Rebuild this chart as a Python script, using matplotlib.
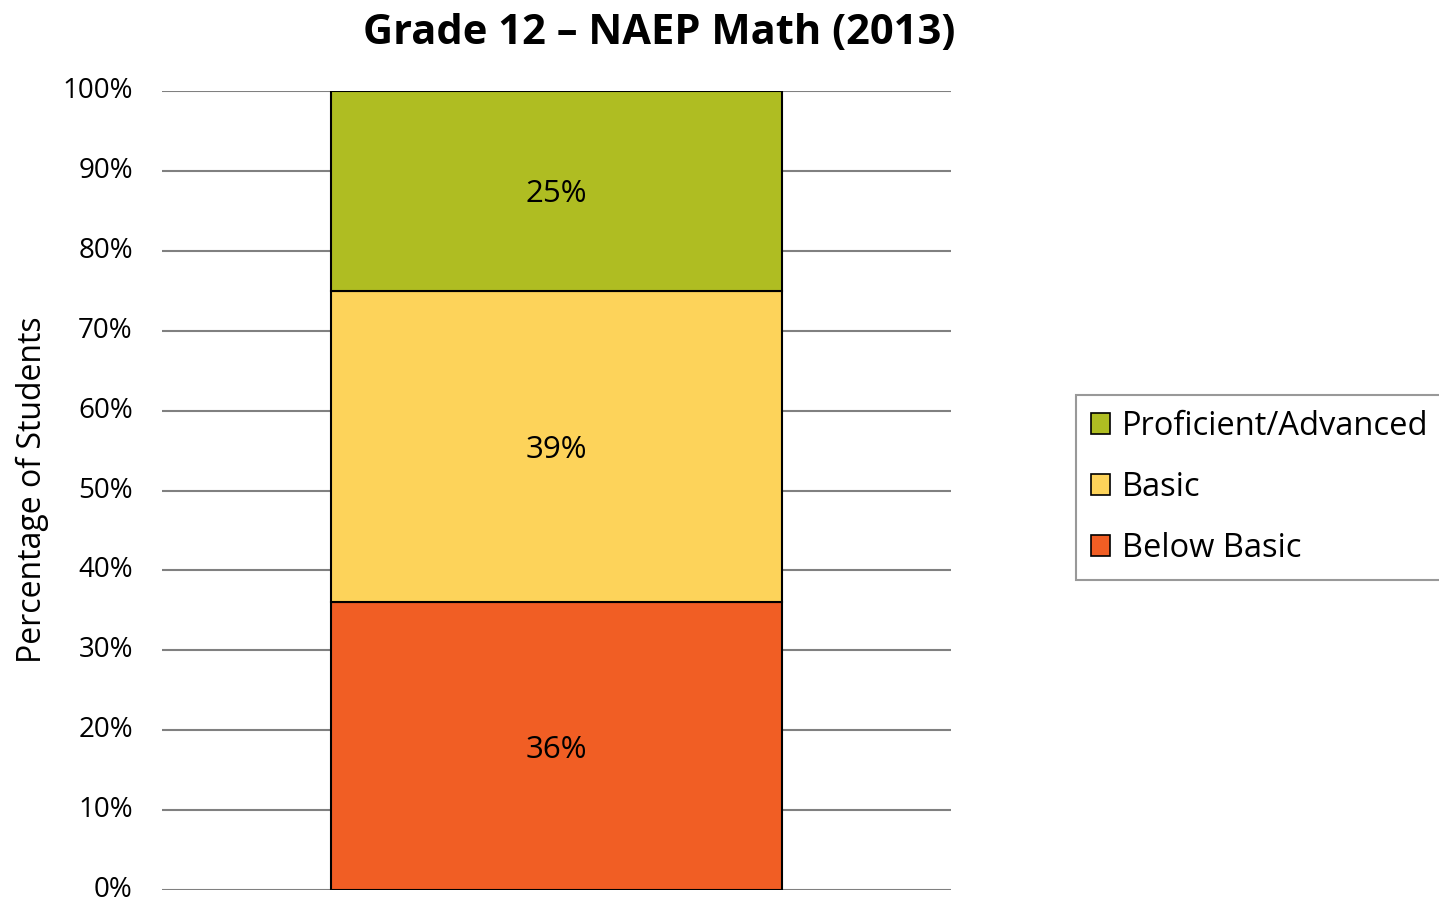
import matplotlib
matplotlib.use("Agg")
import matplotlib.pyplot as plt
import matplotlib.transforms as mtransforms
from matplotlib.patches import Patch

# data
categories = ["Below Basic", "Basic", "Proficient/Advanced"]
values = [36, 39, 25]
colors = ["#F15E24", "#FDD35A", "#AFBD22"]
yticks = [0, 10, 20, 30, 40, 50, 60, 70, 80, 90, 100]
title = "Grade 12 \u2013 NAEP Math (2013)"
ylabel = "Percentage of Students"

plt.rcParams["font.family"] = ["Open Sans", "DejaVu Sans"]

fig = plt.figure(figsize=(14.39, 9.02), dpi=100)
W, H = 1439, 902
ax = fig.add_axes([162 / W, 1 - 890 / H, (951 - 162) / W, (890 - 91) / H])

bottom = 0
for cat, v, c in zip(categories, values, colors):
    ax.bar(0, v, bottom=bottom, width=0.5716, color=c, edgecolor="black",
           linewidth=1.5, zorder=3, label=cat)
    ax.text(0, bottom + v / 2, f"{v}%", ha="center", va="center_baseline",
            fontsize=22.5, zorder=4)
    bottom += v

ax.set_xlim(-0.5, 0.5)
ax.set_ylim(0, 100)
ax.set_yticks(yticks)
ax.set_yticklabels([f"{t}%" for t in yticks], fontsize=20)
ax.yaxis.grid(True, color="#808080", linewidth=1.5, zorder=0)
ax.set_xticks([])
for s in ax.spines.values():
    s.set_visible(False)
ax.tick_params(axis="y", length=0, pad=21)
# nudge tick labels up a little so "0%" stays inside the figure
shift = mtransforms.ScaledTranslation(0, 2.5 / 72, fig.dpi_scale_trans)
for lab in ax.get_yticklabels():
    lab.set_transform(lab.get_transform() + shift)

fig.text(32 / W, 1 - 490 / H, ylabel, rotation=90, ha="center", va="center",
         fontsize=23)
fig.text(659 / W, 1 - 34 / H, title, ha="center", va="center", fontsize=30,
         fontweight="bold")

handles = [Patch(facecolor=c, edgecolor="black", linewidth=1.2, label=l)
           for l, c in zip(categories[::-1], colors[::-1])]
leg = fig.legend(handles=handles, loc="upper left",
                 bbox_to_anchor=(1076 / W, 1 - 395 / H), borderaxespad=0,
                 fontsize=23.5, handlelength=0.6, handleheight=0.6,
                 handletextpad=0.35, labelspacing=0.86, fancybox=False,
                 borderpad=0.45, frameon=True)
leg.get_frame().set_edgecolor("#808080")
leg.get_frame().set_linewidth(1.5)

fig.savefig("out.png", dpi=100)
